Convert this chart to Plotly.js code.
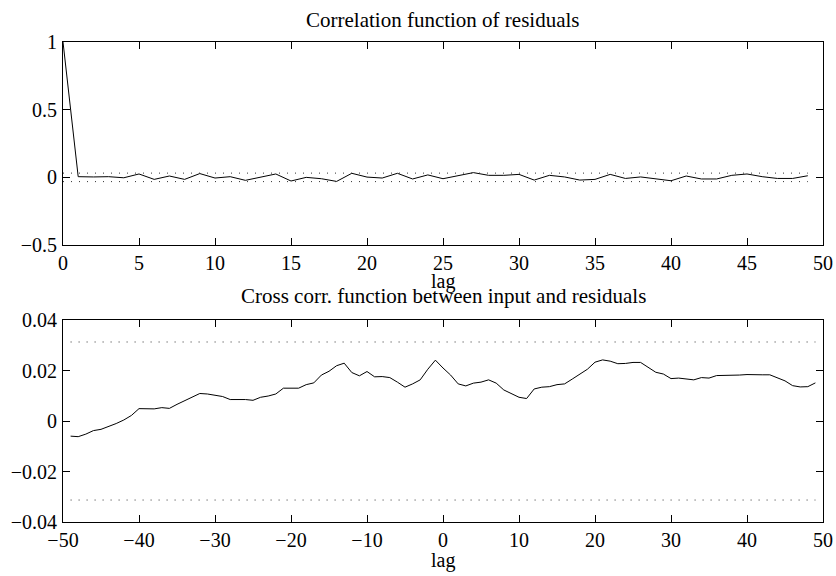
<!DOCTYPE html>
<html>
<head>
<meta charset="utf-8">
<script src="https://cdn.plot.ly/plotly-3.0.1.min.js"></script>
<style>html,body{margin:0;padding:0;background:#fff;}#chart{width:836px;height:576px;}</style>
</head>
<body>
<div id="chart"></div>
<script>
// Autocorrelation of residuals, lags 0..49
const acfLags = Array.from({length: 50}, (_, i) => i);
const acfValues = [1.0, 0.005, 0.003, 0.005, -0.003, 0.025, -0.015, 0.01, -0.015, 0.028,
  -0.005, 0.005, -0.022, 0.0, 0.025, -0.027, 0.0, -0.01, -0.03, 0.03,
  0.002, -0.005, 0.03, -0.012, 0.018, -0.01, 0.012, 0.035, 0.015, 0.015,
  0.022, -0.02, 0.015, 0.003, -0.02, -0.015, 0.022, -0.008, 0.003, -0.01,
  -0.025, 0.01, -0.012, -0.012, 0.015, 0.025, 0.005, -0.008, -0.008, 0.012];

// Cross correlation between input and residuals, lags -49..49
const ccfLags = Array.from({length: 99}, (_, i) => i - 49);
const ccfValues = [
  -0.006, -0.0062, -0.0052, -0.0038, -0.0033, -0.0023, -0.001, 0.0004, 0.0022, 0.0049,
  0.0048, 0.0048, 0.0053, 0.005, 0.0066, 0.008, 0.0097, 0.0109, 0.0107, 0.0102,
  0.0097, 0.0085, 0.0085, 0.0085, 0.0082, 0.0094, 0.0099, 0.0107, 0.013, 0.0129,
  0.013, 0.0144, 0.0151, 0.0182, 0.0197, 0.0219, 0.0229, 0.0192, 0.0179, 0.0196,
  0.0175, 0.0176, 0.0172, 0.0154, 0.0134, 0.0147, 0.0163, 0.0205, 0.0241,
  0.021, 0.0182, 0.0147, 0.0139, 0.015, 0.0154, 0.0163, 0.015, 0.0123, 0.0107,
  0.0094, 0.0089, 0.0127, 0.0134, 0.0136, 0.0144, 0.0147, 0.0166, 0.0187, 0.0205,
  0.0233, 0.0242, 0.0237, 0.0227, 0.0228, 0.0232, 0.0232, 0.0213, 0.0193, 0.0186,
  0.0168, 0.017, 0.0166, 0.0163, 0.0172, 0.017, 0.018, 0.018, 0.0182, 0.0182,
  0.0184, 0.0182, 0.0183, 0.0183, 0.0172, 0.0159, 0.014, 0.0135, 0.0136, 0.0151];

// Confidence band
const confLevel = 0.0313;
const acfBandLags = [0, 49];
const ccfBandLags = [-49, 49];

const titleTop = 'Correlation function of residuals';
const titleBottom = 'Cross corr. function between input and residuals';
const xLabel = 'lag';

const FONT = "'Liberation Serif', 'Times New Roman', Times, serif";
const fs = 20;
const fsTitle = 21;
const solid = {color: '#000', width: 1};
const dotted = {color: '#333', width: 1, dash: '1px,7px'};

const traces = [
  {x: acfLags, y: acfValues, type: 'scatter', mode: 'lines', line: solid, xaxis: 'x', yaxis: 'y'},
  {x: acfBandLags, y: acfBandLags.map(() => confLevel), type: 'scatter', mode: 'lines', line: dotted, xaxis: 'x', yaxis: 'y'},
  {x: acfBandLags, y: acfBandLags.map(() => -confLevel), type: 'scatter', mode: 'lines', line: dotted, xaxis: 'x', yaxis: 'y'},
  {x: ccfLags, y: ccfValues, type: 'scatter', mode: 'lines', line: solid, xaxis: 'x2', yaxis: 'y2'},
  {x: ccfBandLags, y: ccfBandLags.map(() => confLevel), type: 'scatter', mode: 'lines', line: dotted, xaxis: 'x2', yaxis: 'y2'},
  {x: ccfBandLags, y: ccfBandLags.map(() => -confLevel), type: 'scatter', mode: 'lines', line: dotted, xaxis: 'x2', yaxis: 'y2'}
];

const axisBase = {
  showgrid: false, zeroline: false, showline: true, linecolor: '#000', linewidth: 1,
  mirror: 'ticks', ticks: 'inside', ticklen: 7, tickwidth: 1, tickcolor: '#000',
  tickfont: {family: FONT, size: fs, color: '#000'}, fixedrange: true
};

const layout = {
  width: 836, height: 576,
  margin: {l: 63, r: 13, t: 42, b: 54},
  paper_bgcolor: '#fff', plot_bgcolor: '#fff',
  showlegend: false,
  font: {family: FONT, size: fs, color: '#000'},
  xaxis: Object.assign({}, axisBase, {domain: [0, 1], range: [0, 50], dtick: 5, tick0: 0, anchor: 'y', ticklabelstandoff: 0}),
  yaxis: Object.assign({}, axisBase, {domain: [0.577, 1], range: [-0.5, 1], dtick: 0.5, tick0: 0, anchor: 'x', ticklabelstandoff: 1}),
  xaxis2: Object.assign({}, axisBase, {domain: [0, 1], range: [-50, 50], dtick: 10, tick0: 0, anchor: 'y2', ticklabelstandoff: 0}),
  yaxis2: Object.assign({}, axisBase, {domain: [0, 0.4208], range: [-0.04, 0.04], dtick: 0.02, tick0: 0, anchor: 'x2', ticklabelstandoff: 1}),
  annotations: [
    {text: titleTop, xref: 'paper', yref: 'paper', x: 0.5, y: 1.0465, xanchor: 'center', yanchor: 'middle', showarrow: false, font: {family: FONT, size: fsTitle, color: '#000'}},
    {text: xLabel, xref: 'paper', yref: 'paper', x: 0.5, y: 0.502, xanchor: 'center', yanchor: 'middle', showarrow: false, font: {family: FONT, size: fs, color: '#000'}},
    {text: titleBottom, xref: 'paper', yref: 'paper', x: 0.5, y: 0.4717, xanchor: 'center', yanchor: 'middle', showarrow: false, font: {family: FONT, size: fsTitle, color: '#000'}},
    {text: xLabel, xref: 'paper', yref: 'paper', x: 0.5, y: -0.0792, xanchor: 'center', yanchor: 'middle', showarrow: false, font: {family: FONT, size: fs, color: '#000'}}
  ]
};

Plotly.newPlot('chart', traces, layout, {displayModeBar: false, staticPlot: true});
</script>
</body>
</html>
